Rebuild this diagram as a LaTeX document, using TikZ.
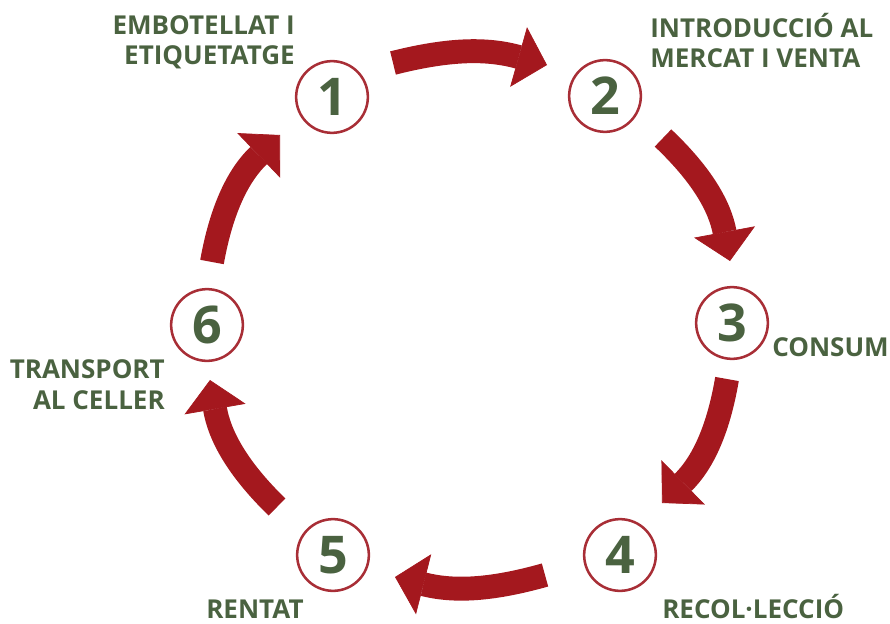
\documentclass[tikz,border=0pt]{standalone}
\usepackage{fontspec}
\setmainfont{Open Sans}
\usetikzlibrary{arrows.meta}
\definecolor{wine}{RGB}{164,24,30}
\definecolor{ringred}{RGB}{168,46,54}
\definecolor{leaf}{RGB}{74,98,64}
\begin{document}
\begin{tikzpicture}[x=0.025cm, y=-0.025cm,
        stepnode/.style={circle, draw=ringred, line width=1.8pt, fill=white, minimum size=51pt, inner sep=0pt, text=leaf, font=\fontsize{37}{37}\selectfont\bfseries},
        labeltext/.style={text=leaf, inner sep=0pt, font=\fontsize{18.5}{22}\selectfont\bfseries},
        cyclearrow/.style={draw=wine, line width=17pt, -{Triangle[width=44pt, length=21pt, line width=0.5pt]}}]
        \useasboundingbox (0,0) rectangle (890,624);
        % the six stages
        \node[stepnode] (A) at (332, 97) {1};
        \node[stepnode] (B) at (605, 96) {2};
        \node[stepnode] (C) at (732, 323) {3};
        \node[stepnode] (D) at (620, 555) {4};
        \node[stepnode] (E) at (333, 555) {5};
        \node[stepnode] (F) at (207, 325) {6};
        % labels (base = last line)
        \node[labeltext, align=right, anchor=base east] (LA) at (295, 65) {EMBOTELLAT I\\ETIQUETATGE};
        \node[labeltext, align=left, anchor=base west] (LB) at (650, 68) {INTRODUCCIÓ AL\\MERCAT I VENTA};
        \node[labeltext, anchor=base west] (LC) at (772, 356) {CONSUM};
        \node[labeltext, anchor=base west] (LD) at (662, 618) {RECOL·LECCIÓ};
        \node[labeltext, anchor=base west] (LE) at (206, 618) {RENTAT};
        \node[labeltext, align=right, anchor=base east] (LF) at (165, 409) {TRANSPORT\\AL CELLER};
        % arrow ends
        \coordinate (tA) at (393, 63);
        \coordinate (hA) at (547, 65);
        \coordinate (tB) at (663, 138);
        \coordinate (hB) at (730, 261);
        \coordinate (tC) at (727, 379);
        \coordinate (hC) at (662, 503);
        \coordinate (tD) at (545, 575);
        \coordinate (hD) at (395, 577);
        \coordinate (tE) at (277, 507);
        \coordinate (hE) at (210, 380);
        \coordinate (tF) at (212, 262);
        \coordinate (hF) at (280, 135);
        \draw[cyclearrow] (tA) to[bend left=15] (hA);
        \draw[cyclearrow] (tB) to[bend left=18] (hB);
        \draw[cyclearrow] (tC) to[bend left=18] (hC);
        \draw[cyclearrow] (tD) to[bend left=15] (hD);
        \draw[cyclearrow] (tE) to[bend left=18] (hE);
        \draw[cyclearrow] (tF) to[bend left=18] (hF);
\end{tikzpicture}
\end{document}
